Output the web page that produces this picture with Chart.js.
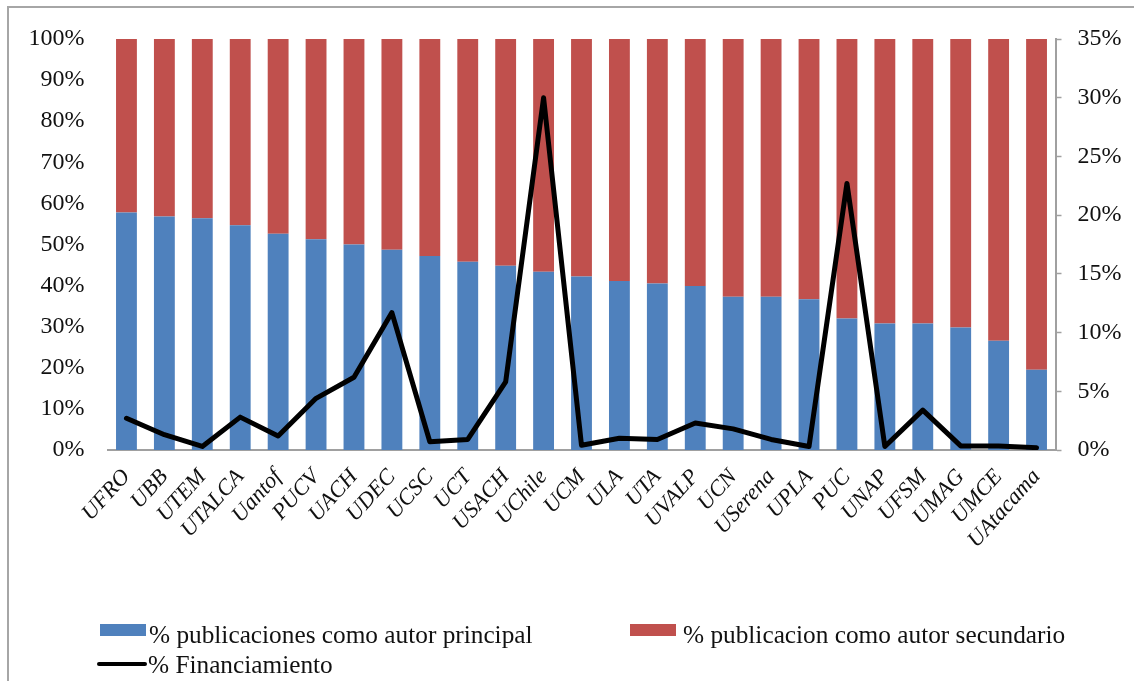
<!DOCTYPE html>
<html>
<head>
<meta charset="utf-8">
<script src="https://cdn.jsdelivr.net/npm/chart.js@4.4.1/dist/chart.umd.min.js"></script>
<style>
  html, body { margin: 0; padding: 0; background: #fff; overflow: hidden; }
  #wrap { position: relative; width: 1134px; height: 681px; overflow: hidden; }
  #frame { position: absolute; left: 7px; top: 6px; width: 1300px; height: 900px;
           border-left: 2px solid #a6a6a6; border-top: 2px solid #a6a6a6; }
  canvas { position: absolute; left: 0; top: 0; }
  .lg { position: absolute; font-family: "Liberation Serif", serif; font-size: 25.3px; color: #111;
        white-space: nowrap; line-height: 28px; }
  .sw { position: absolute; }
</style>
</head>
<body>
<div id="wrap">
  <div id="frame"></div>
  <canvas id="c" width="1134" height="681"></canvas>
  <div id="legend"></div>
</div>
<script>
const categories = ["UFRO","UBB","UTEM","UTALCA","Uantof","PUCV","UACH","UDEC","UCSC","UCT","USACH","UChile","UCM","ULA","UTA","UVALP","UCN","USerena","UPLA","PUC","UNAP","UFSM","UMAG","UMCE","UAtacama"];
const principal = [57.8, 56.8, 56.4, 54.7, 52.6, 51.3, 50.0, 48.7, 47.2, 45.8, 44.8, 43.4, 42.2, 41.1, 40.5, 39.9, 37.3, 37.3, 36.7, 32.0, 30.8, 30.8, 29.8, 26.6, 19.5];
const secundario = [42.2, 43.2, 43.6, 45.3, 47.4, 48.7, 50.0, 51.3, 52.8, 54.2, 55.2, 56.6, 57.8, 58.9, 59.5, 60.1, 62.7, 62.7, 63.3, 68.0, 69.2, 69.2, 70.2, 73.4, 80.5];
const financiamiento = [2.7, 1.3, 0.3, 2.8, 1.2, 4.4, 6.2, 11.7, 0.7, 0.9, 5.8, 30.0, 0.4, 1.0, 0.9, 2.3, 1.8, 0.9, 0.3, 22.7, 0.3, 3.4, 0.35, 0.35, 0.2];
const leftTicks = [0,10,20,30,40,50,60,70,80,90,100];
const rightTicks = [0,5,10,15,20,25,30,35];
const seriesNames = ["% publicaciones como autor principal", "% publicacion como autor secundario", "% Financiamiento"];

const BLUE = "#4F81BD", RED = "#C0504D", BLACK = "#000000", AXIS = "#a0a0a0";
const tickFont = { family: "Liberation Serif", size: 24 };

new Chart(document.getElementById("c"), {
  data: {
    labels: categories,
    datasets: [
      { type: "line", label: seriesNames[2], data: financiamiento, yAxisID: "y1",
        borderColor: BLACK, backgroundColor: BLACK, borderWidth: 5, pointRadius: 0,
        tension: 0, order: 0, borderJoinStyle: "round", borderCapStyle: "round" },
      { type: "bar", label: seriesNames[0], data: principal, yAxisID: "y",
        backgroundColor: BLUE, stack: "s", order: 1,
        barPercentage: 0.55, categoryPercentage: 1.0 },
      { type: "bar", label: seriesNames[1], data: secundario, yAxisID: "y",
        backgroundColor: RED, stack: "s", order: 1,
        barPercentage: 0.55, categoryPercentage: 1.0 }
    ]
  },
  options: {
    responsive: false,
    animation: false,
    layout: { padding: { top: 39, left: 0, right: 0, bottom: 0 } },
    plugins: { legend: { display: false }, tooltip: { enabled: false } },
    scales: {
      x: {
        stacked: true,
        grid: { display: false, drawTicks: false },
        border: { display: true, color: AXIS, width: 2 },
        ticks: { font: { family: "Liberation Serif", size: 22.5, style: "italic" }, color: "#111",
                 minRotation: 48, maxRotation: 48, padding: 14, autoSkip: false },
        afterFit: s => { s.height = 681 - 450; }
      },
      y: {
        stacked: true, position: "left", min: 0, max: 100,
        afterBuildTicks: s => { s.ticks = leftTicks.map(v => ({ value: v })); },
        grid: { display: false, drawTicks: false },
        border: { display: false },
        ticks: { font: tickFont, color: "#111", padding: 23, callback: v => v + "%" },
        afterFit: s => { s.width = 107.5; }
      },
      y1: {
        position: "right", min: 0, max: 35,
        afterBuildTicks: s => { s.ticks = rightTicks.map(v => ({ value: v })); },
        grid: { drawOnChartArea: false, drawTicks: true, tickLength: 6, color: AXIS, tickColor: AXIS, tickWidth: 1.5 },
        border: { display: true, color: AXIS, width: 2 },
        ticks: { font: tickFont, color: "#111", padding: 16, callback: v => v + "%" },
        afterFit: s => { s.width = 1134 - 1055.5; }
      }
    }
  }
});

// HTML legend built from series names and colours
const legend = document.getElementById("legend");
const items = [
  { name: seriesNames[0], color: BLUE, kind: "box", sx: 100, sy: 624, tx: 149, ty: 620 },
  { name: seriesNames[1], color: RED, kind: "box", sx: 630, sy: 624, tx: 683, ty: 620 },
  { name: seriesNames[2], color: BLACK, kind: "line", sx: 97, sy: 662, tx: 148, ty: 650 }
];
items.forEach(it => {
  const sw = document.createElement("div");
  sw.className = "sw";
  sw.style.left = it.sx + "px";
  sw.style.top = it.sy + "px";
  sw.style.background = it.color;
  if (it.kind === "box") { sw.style.width = "46px"; sw.style.height = "12px"; }
  else { sw.style.width = "50px"; sw.style.height = "4px"; sw.style.borderRadius = "2px"; }
  legend.appendChild(sw);
  const t = document.createElement("div");
  t.className = "lg";
  t.style.left = it.tx + "px";
  t.style.top = it.ty + "px";
  t.textContent = it.name;
  legend.appendChild(t);
});
</script>
</body>
</html>
